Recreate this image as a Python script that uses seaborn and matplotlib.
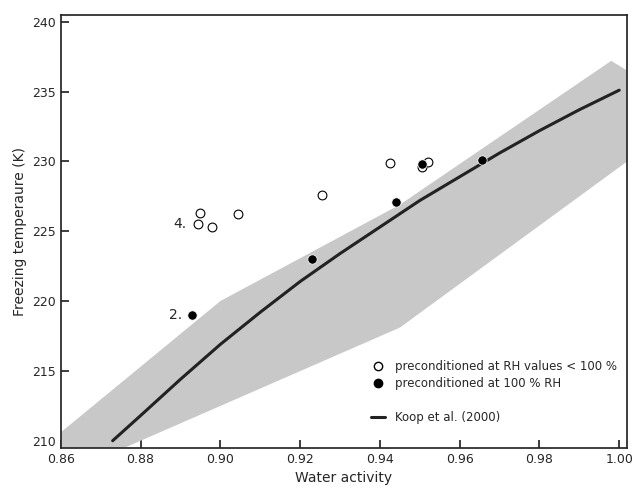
import numpy as np
import matplotlib
matplotlib.use("Agg")
import matplotlib.pyplot as plt
import seaborn as sns
from matplotlib.lines import Line2D

# data
band_x = [0.860, 0.900, 0.945, 0.998, 1.002, 1.002, 0.945, 0.876, 0.860]
band_y = [210.6, 220.0, 226.9, 237.2, 236.5, 230.0, 218.1, 209.5, 209.5]
koop_aw = [0.873, 0.88, 0.89, 0.90, 0.91, 0.92, 0.93, 0.94, 0.95, 0.96, 0.97, 0.98, 0.99, 1.00]
koop_T = [210.0, 211.8, 214.4, 216.9, 219.2, 221.4, 223.4, 225.3, 227.2, 228.9, 230.6, 232.2, 233.7, 235.1]
open_aw = [0.8945, 0.895, 0.898, 0.9045, 0.9255, 0.9425, 0.9505, 0.952]
open_T = [225.5, 226.3, 225.3, 226.2, 227.6, 229.9, 229.6, 229.95]
fill_aw = [0.893, 0.923, 0.944, 0.9505, 0.9655]
fill_T = [219.0, 223.0, 227.1, 229.85, 230.1]

sns.set_theme(style="ticks")
plt.rcParams['font.family'] = ['DejaVu Sans']
fig, ax = plt.subplots(figsize=(6.4, 4.92), dpi=100)

ax.fill(band_x, band_y, color="#c8c8c8", lw=0, zorder=1)
sns.lineplot(x=koop_aw, y=koop_T, ax=ax, color="#222222", lw=2.2, zorder=2)
sns.scatterplot(x=open_aw, y=open_T, ax=ax, facecolor="white", edgecolor="black",
                s=40, linewidth=0.8, zorder=3)
sns.scatterplot(x=fill_aw, y=fill_T, ax=ax, color="black", s=45, zorder=3)

ax.text(0.8915, 225.5, "4.", ha="right", va="center", fontsize=10)
ax.text(0.8905, 219.0, "2.", ha="right", va="center", fontsize=10)

handles = [Line2D([], [], marker="o", ls="", mfc="white", mec="black", ms=6),
           Line2D([], [], marker="o", ls="", color="black", ms=6),
           Line2D([], [], ls="", marker=""),
           Line2D([], [], color="#222222", lw=2.2)]
labels = ["preconditioned at RH values < 100 %", "preconditioned at 100 % RH", "",
          "Koop et al. (2000)"]
ax.legend(handles, labels, frameon=False, loc="lower right", fontsize=8.5,
          bbox_to_anchor=(1.0, 0.03), handlelength=1.2, labelspacing=0.35)

ax.set_xlim(0.86, 1.002)
ax.set_ylim(209.5, 240.5)
ax.set_xticks(np.arange(0.86, 1.001, 0.02))
ax.set_xticklabels([f"{v:.2f}" for v in np.arange(0.86, 1.001, 0.02)])
ax.set_yticks(range(210, 241, 5))
ax.tick_params(direction="in", labelsize=9)
ax.set_xlabel("Water activity", fontsize=10)
ax.set_ylabel("Freezing temperaure (K)", fontsize=10)
fig.subplots_adjust(left=0.095, right=0.98, top=0.97, bottom=0.09)
fig.savefig("out.png", dpi=100)
